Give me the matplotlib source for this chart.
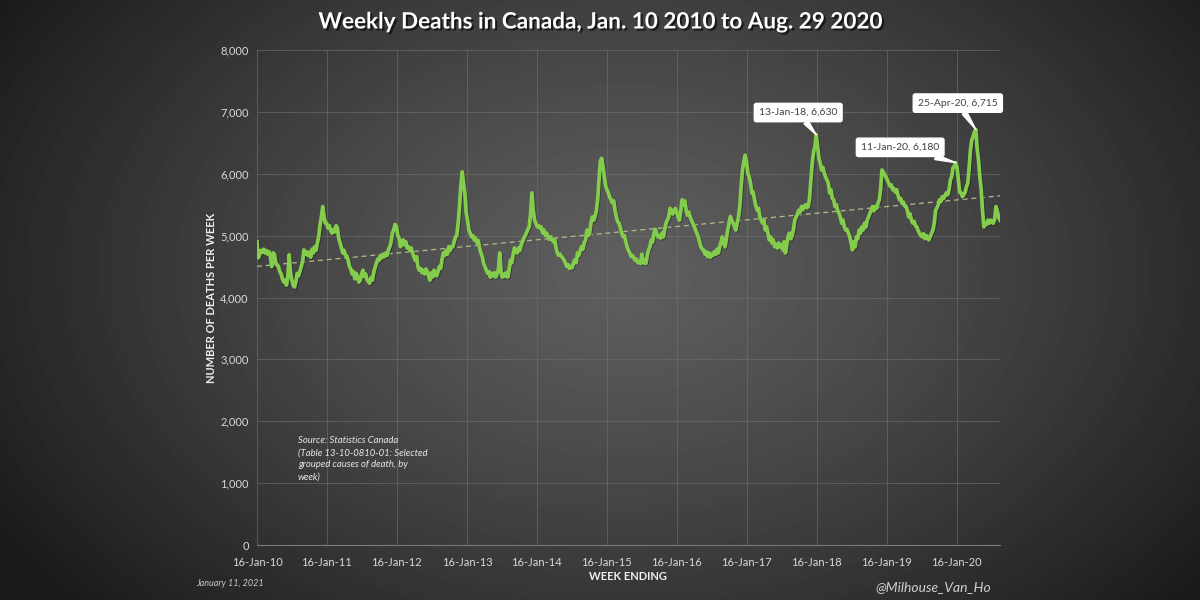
import numpy as np
import pandas as pd
import matplotlib
matplotlib.use("Agg")
import matplotlib.pyplot as plt
import matplotlib.dates as mdates
import matplotlib.patheffects as pe
from matplotlib.ticker import FuncFormatter, MultipleLocator

plt.rcParams['font.family'] = ['Lato', 'DejaVu Sans']

# ---- data: weekly deaths, week ending 16-Jan-2010 ... 29-Aug-2020 ----
start_week = "2010-01-16"
deaths_2010 = [4900, 4640, 4700, 4760, 4730, 4780, 4720, 4760, 4700, 4740,
               4660, 4500, 4720, 4700, 4560, 4520, 4500, 4420, 4380, 4300,
               4250, 4280, 4200, 4330, 4690, 4400, 4280, 4200, 4170, 4260,
               4390, 4350, 4420, 4500, 4580, 4770, 4700, 4740, 4680, 4730,
               4650, 4780, 4720, 4820, 4760, 4880, 4980, 5170, 5300, 5470,
               5300, 5200]
deaths_2011 = [5200, 5120, 5160, 5080, 5040, 5100, 5060, 5160, 5120, 4950,
               4880, 4800, 4720, 4760, 4680, 4670, 4600, 4500, 4460, 4380,
               4420, 4300, 4390, 4330, 4250, 4280, 4380, 4440, 4340, 4380,
               4290, 4260, 4230, 4320, 4280, 4400, 4480, 4550, 4620, 4600,
               4680, 4640, 4700, 4660, 4720, 4680, 4770, 4820, 4900, 5040,
               5100, 5180]
deaths_2012 = [5150, 5000, 4960, 4820, 4880, 4930, 4850, 4900, 4800, 4820,
               4760, 4800, 4720, 4660, 4600, 4660, 4500, 4440, 4470, 4400,
               4440, 4380, 4460, 4420, 4350, 4280, 4400, 4330, 4440, 4390,
               4350, 4420, 4500, 4470, 4620, 4720, 4680, 4760, 4700, 4820,
               4760, 4820, 4820, 4900, 4980, 5000, 5200, 5470, 5800, 6030,
               5850, 5690]
deaths_2013 = [5370, 5250, 5090, 5040, 4980, 5000, 4930, 4960, 4880, 4920,
               4800, 4720, 4660, 4550, 4500, 4440, 4390, 4420, 4330, 4390,
               4350, 4400, 4330, 4380, 4450, 4720, 4400, 4330, 4380, 4340,
               4400, 4330, 4450, 4600, 4560, 4700, 4800, 4740, 4720, 4800,
               4760, 4850, 4900, 4960, 5000, 5050, 5100, 5150, 5350, 5690,
               5400, 5250]
deaths_2014 = [5200, 5140, 5160, 5120, 5140, 5040, 5090, 5000, 5040, 4980,
               4940, 4980, 4930, 4900, 4930, 4800, 4720, 4680, 4700, 4660,
               4640, 4600, 4560, 4500, 4530, 4470, 4500, 4480, 4560, 4610,
               4560, 4720, 4680, 4760, 4820, 4780, 4880, 4930, 5090, 5000,
               5040, 5200, 5300, 5250, 5310, 5400, 5580, 5900, 6200, 6250,
               6120, 5950]
deaths_2015 = [5800, 5740, 5690, 5620, 5580, 5530, 5560, 5400, 5300, 5220,
               5200, 5120, 5040, 4980, 5000, 4900, 4820, 4760, 4720, 4660,
               4680, 4640, 4600, 4620, 4560, 4580, 4550, 4700, 4560, 4600,
               4550, 4680, 4770, 4820, 4930, 4900, 5040, 5100, 5040, 4980,
               5000, 4960, 5040, 4980, 5100, 5200, 5250, 5300, 5440, 5410,
               5350, 5400]
deaths_2016 = [5440, 5380, 5300, 5250, 5400, 5580, 5500, 5560, 5410, 5330,
               5380, 5300, 5250, 5200, 5150, 5090, 5040, 4980, 4900, 4820,
               4780, 4770, 4700, 4740, 4660, 4720, 4650, 4700, 4680, 4740,
               4700, 4780, 4720, 4820, 4900, 4980, 4880, 4820, 4950, 5100,
               5200, 5310, 5250, 5200, 5150, 5090, 5200, 5300, 5470, 5800,
               6060, 6200]
deaths_2017 = [6300, 6200, 6010, 5950, 5850, 5690, 5700, 5580, 5480, 5410,
               5440, 5300, 5250, 5200, 5250, 5090, 5140, 5040, 4930, 4980,
               4880, 4930, 4820, 4860, 4800, 4880, 4820, 4850, 4770, 4900,
               4720, 4850, 4980, 5040, 4950, 5000, 5100, 5250, 5300, 5350,
               5410, 5380, 5470, 5420, 5470, 5500, 5450, 5470, 5600, 5900,
               6170, 6350, 6440, 6630]
deaths_2018 = [6440, 6250, 6170, 6060, 6100, 6010, 5950, 5900, 5850, 5690,
               5740, 5600, 5580, 5470, 5500, 5410, 5360, 5300, 5200, 5250,
               5140, 5090, 5100, 5040, 4980, 4880, 4770, 4900, 4820, 4980,
               4950, 5090, 5040, 5140, 5090, 5200, 5140, 5250, 5300, 5360,
               5410, 5470, 5400, 5470, 5440, 5520, 5580, 5750, 6060, 6030,
               5990, 5950]
deaths_2019 = [5900, 5850, 5800, 5820, 5740, 5760, 5700, 5740, 5650, 5580,
               5600, 5520, 5540, 5480, 5470, 5400, 5300, 5350, 5250, 5200,
               5230, 5160, 5140, 5080, 5040, 5000, 4980, 5030, 4950, 5000,
               4960, 4930, 4990, 5040, 5090, 5200, 5410, 5450, 5500, 5580,
               5550, 5630, 5600, 5650, 5690, 5660, 5740, 5900, 5950, 6100,
               6120, 6180]
deaths_2020 = [6100, 5900, 5700, 5690, 5630, 5660, 5700, 5790, 5850, 6100,
               6390, 6550, 6600, 6680, 6715, 6400, 6220, 5950, 5740, 5400,
               5140, 5200, 5180, 5250, 5200, 5250, 5230, 5200, 5260, 5470,
               5400, 5300, 5250]

callout_dates = ["2018-01-13", "2020-01-11", "2020-04-25"]

title = "Weekly Deaths in Canada, Jan. 10 2010 to Aug. 29 2020"
ylabel = "NUMBER OF DEATHS PER WEEK"
xlabel = "WEEK ENDING"
source_note = ("Source: Statistics Canada\n(Table 13-10-0810-01: Selected\n"
               "grouped causes of death, by\nweek)")
date_note = "January 11, 2021"
handle = "@Milhouse_Van_Ho"

deaths = np.array(deaths_2010 + deaths_2011 + deaths_2012 + deaths_2013 +
                  deaths_2014 + deaths_2015 + deaths_2016 + deaths_2017 +
                  deaths_2018 + deaths_2019 + deaths_2020)
dates = pd.date_range(start_week, periods=len(deaths), freq="7D")

# ---- figure ----
fig = plt.figure(figsize=(12, 6), dpi=100)

# radial gradient background
bg = fig.add_axes([0, 0, 1, 1], zorder=-10)
gx, gy = np.meshgrid(np.linspace(0, 1, 600), np.linspace(0, 1, 300))
r = np.sqrt(((gx - 0.52) / 0.62) ** 2 + ((gy - 0.45) / 0.85) ** 2)
shade = 0.37 - 0.27 * np.clip(r, 0, 1) ** 1.25
bg.imshow(shade, cmap="gray", vmin=0, vmax=1, aspect="auto",
          extent=[0, 1, 0, 1], origin="upper")
bg.set_axis_off()

ax = fig.add_axes([257 / 1200, 1 - 545 / 600, (1000 - 257) / 1200, (545 - 50) / 600])
ax.set_facecolor("none")

ax.plot(dates, deaths, color="#84cc4c", lw=2.7, solid_joinstyle="round",
        path_effects=[pe.SimpleLineShadow(offset=(0.6, -0.6), shadow_color="black", alpha=0.35),
                      pe.Normal()], zorder=4)

# linear trendline
widx = np.arange(len(deaths))
coef = np.polyfit(widx, deaths, 1)
ax.plot(dates, np.polyval(coef, widx), color="#b5bb8a", lw=0.9, ls=(0, (4, 3)), zorder=3)

ax.set_ylim(0, 8000)
ax.set_xlim(dates[0], dates[-1])
ax.yaxis.set_major_locator(MultipleLocator(1000))
ax.yaxis.set_major_formatter(FuncFormatter(lambda v, p: f"{int(v):,}"))
ax.xaxis.set_major_locator(mdates.YearLocator(1, month=1, day=16))
ax.xaxis.set_major_formatter(mdates.DateFormatter("%d-%b-%y"))

ax.grid(True, color="#707070", lw=0.6, alpha=0.7)
ax.set_axisbelow(True)
for s in ["top", "right", "left"]:
    ax.spines[s].set_visible(False)
ax.spines["bottom"].set_color("#7a7a7a")
ax.spines["bottom"].set_linewidth(0.8)
ax.tick_params(axis="x", length=0, colors="#d9d9d9", labelsize=8, pad=9)
ax.tick_params(axis="y", length=0, colors="#d9d9d9", labelsize=8, pad=6)

ax.set_ylabel(ylabel, color="#f0f0f0", fontsize=8, fontweight="bold", labelpad=2)
fig.text(628 / 1200, 1 - 577 / 600, xlabel, ha="center", va="center",
         color="#f0f0f0", fontsize=8, fontweight="bold")

fig.text(600 / 1200, 1 - 22 / 600, title, ha="center", va="center", color="white",
         fontsize=16.2, fontweight="bold",
         path_effects=[pe.withSimplePatchShadow(offset=(1.5, -1.5), shadow_rgbFace="black", alpha=0.6)])

fig.text(298 / 1200, 1 - 436 / 600, source_note,
         ha="left", va="top", color="#e8e8e8", fontsize=6.8, style="italic", linespacing=1.45)
fig.text(196 / 1200, 1 - 584 / 600, date_note, ha="left", va="center", color="#c8c8c8",
         fontsize=6.5, style="italic")
fig.text(991 / 1200, 1 - 587 / 600, handle, ha="right", va="center", color="#d0d0d0",
         fontsize=10, style="italic")

# callouts
offsets = [(-13, 16), (-40, 11), (-13, 19)]
for d, off in zip(callout_dates, offsets):
    dt = pd.Timestamp(d)
    val = int(deaths[dates.get_loc(dt)])
    ax.annotate(f"{dt:%d-%b-%y}, {val:,}", xy=(dt, val), xytext=off,
                textcoords="offset points", ha="center", va="center",
                color="#404040", fontsize=7.5, zorder=6,
                bbox=dict(boxstyle="round,pad=0.45,rounding_size=0.2", fc="white", ec="white"),
                arrowprops=dict(arrowstyle="wedge,tail_width=0.5,shrink_factor=0.5",
                                fc="white", ec="white", shrinkA=0, shrinkB=0))

fig.savefig("out.png", dpi=100)
